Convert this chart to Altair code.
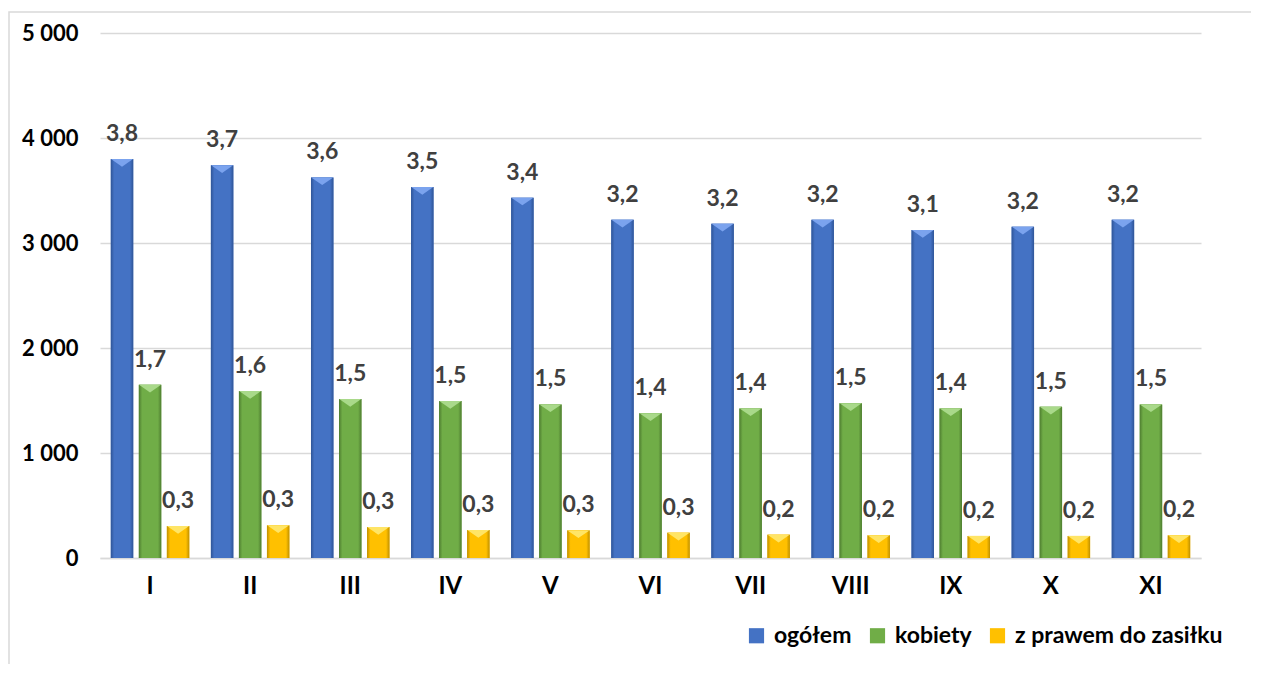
import altair as alt
import pandas as pd

months = ["I", "II", "III", "IV", "V", "VI", "VII", "VIII", "IX", "X", "XI"]
series = ["ogółem", "kobiety", "z prawem do zasiłku"]

ogolem = [3800, 3740, 3625, 3533, 3432, 3222, 3184, 3222, 3124, 3155, 3222]
kobiety = [1650, 1590, 1514, 1495, 1463, 1378, 1425, 1473, 1425, 1441, 1463]
zasilek = [305, 311, 295, 267, 263, 241, 222, 216, 210, 210, 216]

lab_ogolem = ["3,8", "3,7", "3,6", "3,5", "3,4", "3,2", "3,2", "3,2", "3,1", "3,2", "3,2"]
lab_kobiety = ["1,7", "1,6", "1,5", "1,5", "1,5", "1,4", "1,4", "1,5", "1,4", "1,5", "1,5"]
lab_zasilek = ["0,3", "0,3", "0,3", "0,3", "0,3", "0,3", "0,2", "0,2", "0,2", "0,2", "0,2"]

y_ticks = [0, 1000, 2000, 3000, 4000, 5000]

rows = []
for s, vals, labs in [(series[0], ogolem, lab_ogolem),
                      (series[1], kobiety, lab_kobiety),
                      (series[2], zasilek, lab_zasilek)]:
    for m, v, l in zip(months, vals, labs):
        rows.append({"month": m, "series": s, "value": v, "label": l})
df = pd.DataFrame(rows)

main_colors = ["#4472C4", "#70AD47", "#FFC000"]
edge_colors = ["#2F5597", "#4E7D30", "#BF9000"]
top_colors = ["#7BA3EE", "#A9D98A", "#FFE566"]

FONT = "Lato"

x_enc = alt.X("month:N", sort=months,
              scale=alt.Scale(paddingInner=0.16, paddingOuter=0.08),
              axis=alt.Axis(title=None, labelFont=FONT, labelFontSize=24,
                            labelFontWeight="bold", labelColor="#000000",
                            labelAngle=0, ticks=False, labelPadding=16,
                            domainColor="#D9D9D9", domainWidth=1.5, grid=False))
xo_enc = alt.XOffset("series:N", sort=series,
                     scale=alt.Scale(paddingInner=0.2, paddingOuter=0.1))
y_enc = alt.Y("value:Q", scale=alt.Scale(domain=[0, 5000], nice=False),
              axis=alt.Axis(title=None, values=y_ticks, labelFont=FONT,
                            labelFontSize=22, labelFontWeight="bold",
                            labelColor="#000000", ticks=False, domain=False,
                            labelPadding=22, gridColor="#D9D9D9", gridWidth=1.5,
                            labelExpr="replace(format(datum.value, ','), ',', ' ')"))

base = alt.Chart(df)

legend_bars = base.mark_bar().encode(
    x=x_enc, xOffset=xo_enc, y=y_enc,
    color=alt.Color("series:N", sort=series,
                    scale=alt.Scale(domain=series, range=main_colors),
                    legend=alt.Legend(title=None, orient="none", legendX=645, legendY=591,
                                      direction="horizontal", symbolType="square",
                                      symbolSize=230, symbolStrokeWidth=0,
                                      labelFont=FONT, labelFontSize=23, labelLimit=400,
                                      labelFontWeight="bold", labelColor="#000000",
                                      columnPadding=14, labelOffset=6)),
)

layers = [legend_bars]
for s, mc, ec, tc in zip(series, main_colors, edge_colors, top_colors):
    grad = alt.Gradient(gradient="linear",
                        stops=[alt.GradientStop(color=ec, offset=0),
                               alt.GradientStop(color=mc, offset=0.15),
                               alt.GradientStop(color=mc, offset=0.85),
                               alt.GradientStop(color=ec, offset=1)],
                        x1=0, x2=1, y1=0, y2=0)
    layers.append(base.transform_filter(alt.datum.series == s)
                  .mark_bar(color=grad)
                  .encode(x=x_enc, xOffset=xo_enc, y=y_enc))
    layers.append(base.transform_filter(alt.datum.series == s)
                  .mark_point(shape="M-1,-1L1,-1L0,-0.3Z", filled=True, opacity=1,
                              size=484, color=tc, yOffset=11, strokeWidth=0)
                  .encode(x=x_enc, xOffset=xo_enc, y=y_enc))

labels = base.mark_text(font=FONT, fontSize=23, fontWeight="bold", color="#404040",
                        baseline="alphabetic", dy=-18).encode(
    x=x_enc, xOffset=xo_enc, y=y_enc, text="label:N")
layers.append(labels)

border = alt.Chart(alt.Data(values=[{}])).mark_rect(
    fill=None, stroke="#D9D9D9", strokeWidth=1.5).encode(
    x=alt.value(-91), x2=alt.value(1400), y=alt.value(-21), y2=alt.value(900))
layers.append(border)

chart = alt.layer(*layers).properties(
    width=1101, height=525,
    autosize=alt.AutoSizeParams(type="none"),
    padding={"left": 92, "top": 25, "right": 50, "bottom": 106},
).configure(background="#FFFFFF").configure_view(stroke=None, strokeWidth=0)

chart.save("out.html", embed_options={"renderer": "svg", "actions": False})
